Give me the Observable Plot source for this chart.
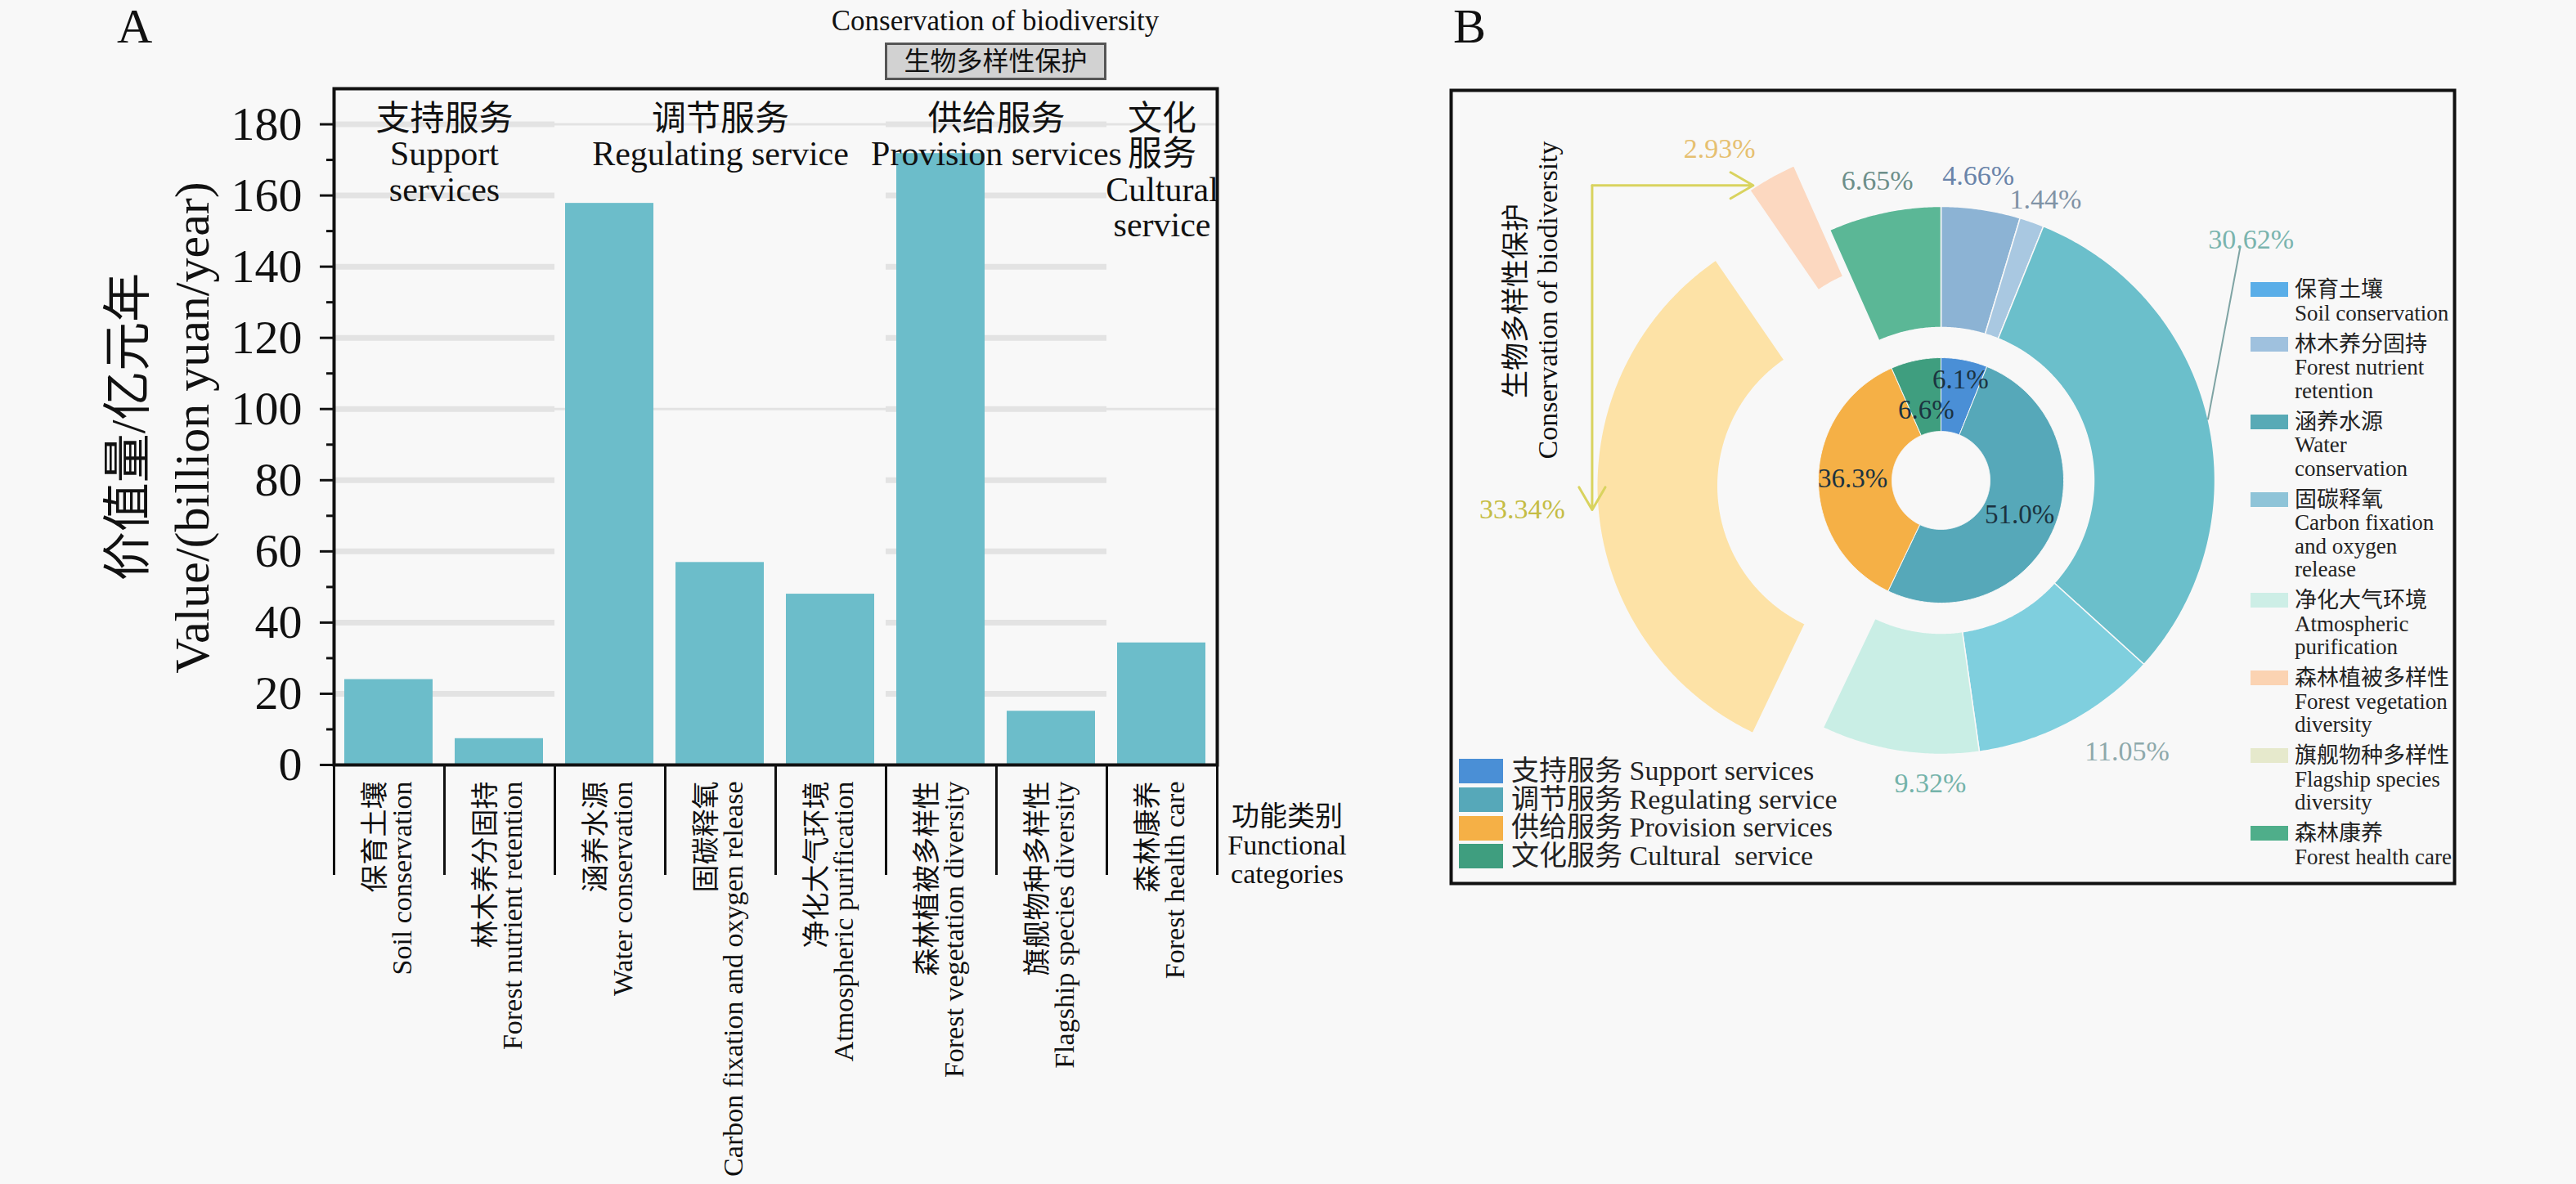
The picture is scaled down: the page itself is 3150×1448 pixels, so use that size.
<!DOCTYPE html>
<html><head><meta charset="utf-8">
<script src="https://cdn.jsdelivr.net/npm/d3@7"></script>
<script src="https://cdn.jsdelivr.net/npm/@observablehq/plot@0.6"></script>
<style>
html,body{margin:0;padding:0;background:#f8f8f8;}
#page{position:relative;width:3150px;height:1448px;overflow:hidden;font-family:"Liberation Serif","Noto Sans CJK SC",serif;color:#111;}
.abs{position:absolute;white-space:pre;line-height:1;}
.rot{transform:translate(-50%,-50%) rotate(-90deg);}
.legR{position:absolute;left:2752px;top:340px;font-size:27px;line-height:28.5px;color:#222;}
.legR .row{display:flex;align-items:flex-start;margin-bottom:9.5px;}
.legR .sw{width:46px;height:18px;margin-top:5px;margin-right:8px;flex:none;}
.legR .tx{white-space:pre;}
.legL{position:absolute;left:1784px;top:926px;font-size:34px;line-height:34.7px;color:#222;}
.legL .row{display:flex;align-items:center;height:34.7px;}
.legL .sw{width:54px;height:30px;margin-right:10px;flex:none;}
.legL .tx{white-space:pre;}
</style></head><body><div id="page"></div><script>
// ---------------- data ----------------
const categoriesZh = ["保育土壤","林木养分固持","涵养水源","固碳释氧","净化大气环境","森林植被多样性","旗舰物种多样性","森林康养"];
const categoriesEn = ["Soil conservation","Forest nutrient retention","Water conservation","Carbon fixation and oxygen release","Atmospheric purification","Forest vegetation diversity","Flagship species diversity","Forest health care"];
const legendEn = ["Soil conservation","Forest nutrient\nretention","Water\nconservation","Carbon fixation\nand oxygen\nrelease","Atmospheric\npurification","Forest vegetation\ndiversity","Flagship species\ndiversity","Forest health care"];
const values = [24.0, 7.4, 157.8, 56.9, 48.0, 171.8, 15.1, 34.3];
const categoryGroup = [0,0,1,1,1,2,2,3];
const groupsZh = ["支持服务","调节服务","供给服务","文化服务"];
const groupsEn = ["Support services","Regulating service","Provision services","Cultural  service"];
const groupLabelText = ["支持服务\nSupport\nservices","调节服务\nRegulating service","供给服务\nProvision services","文化\n服务\nCultural\nservice"];
const outerShares = [4.66, 1.44, 30.62, 11.05, 9.32, 33.34, 2.93, 6.65];
const innerShares = [6.1, 51.0, 36.3, 6.6];
const yTicks = [0,20,40,60,80,100,120,140,160,180];
const yMinorTicks = [10,30,50,70,90,110,130,150,170];

// ---------------- styles / layout ----------------
const FONT = "'Liberation Serif','Noto Sans CJK SC',serif";
const barColor = "#6cbdca";
const outerColors = ["#8cb3d4","#a9c8e1","#6bbfcb","#7fcfde","#c9eee5","#fde2a6","#fcd8c0","#5bb796"];
const legendColors = ["#5aaee8","#9fc1de","#58aab6","#8fc4d8","#cdeee6","#fbd3b2","#e6e9cc","#4fae8a"];
const outerLabelColors = ["#6a84aa","#8193a6","#7ab4ae","#8ea9ab","#74b3aa","#c5bd45","#e6c070","#6d8f8a"];
const innerColors = ["#4a8fd6","#56a8b9","#f5b046","#3f9e7f"];
const explode = [0,0,0,0,0,86,90,0];
const labelAnchor = ["middle","middle","middle","start","start","end","end","middle"];
const labelR = [375,366,480,375,375,375,375,375];
const labelShift = [-1.4,1.1,-24.9,0,0,0,0,0];
const innerLabelR = [125,105,108,88];
const gridThick = [true,false,true,false];

const page = document.getElementById("page");
function addDiv(html, css, cls="abs"){ const d=document.createElement("div"); d.className=cls; d.innerHTML=html; d.style.cssText=css; page.appendChild(d); return d; }

// ---------------- Panel A ----------------
const bars = values.map((v,i)=>({i, v, zh: categoriesZh[i], en: categoriesEn[i], g: categoryGroup[i]}));
const groups = groupsZh.map((zh,g)=>{ const idx = bars.filter(b=>b.g===g).map(b=>b.i); return {g, start: d3.min(idx), end: d3.max(idx)+1, text: groupLabelText[g]}; });
const gridSeg = [];
groups.forEach(gr => {
  const ticks = gridThick[gr.g] ? yTicks.slice(1) : [100,180];
  ticks.forEach(t => gridSeg.push({x1: gr.start, x2: gr.end, y: t, w: gridThick[gr.g] ? 7 : 3}));
});

const plotA = Plot.plot({
  width: 1700, height: 1448,
  marginLeft: 408, marginRight: 212, marginTop: 108, marginBottom: 513,
  x: {domain: [0, categoriesZh.length], axis: null},
  y: {domain: [0, 190], axis: null},
  style: {background: "transparent", fontFamily: FONT, color: "#111", overflow: "visible", maxWidth: "none"},
  marks: [
    Plot.ruleY(gridSeg, {x1: "x1", x2: "x2", y: "y", stroke: "#e3e3e3", strokeWidth: "w"}),
    Plot.rectY(bars, {x1: "i", x2: d => d.i + 1, y: "v", insetLeft: 13, insetRight: 14, fill: barColor}),
    Plot.frame({stroke: "#111", strokeWidth: 4}),
    Plot.axisY({ticks: yTicks, tickSize: 17, tickPadding: 22, fontSize: 58, strokeWidth: 3, label: null, tickFormat: d => String(d)}),
    Plot.axisY({ticks: yMinorTicks, tickSize: 9, strokeWidth: 3, label: null, tickFormat: () => ""}),
    Plot.axisX({ticks: d3.range(0, categoriesZh.length + 1), tickSize: 135, strokeWidth: 3, anchor: "bottom", label: null, tickFormat: () => ""}),
    Plot.text(bars, {x: d => d.i + 0.5, y: 0, text: d => d.zh + "\n" + d.en, rotate: -90, textAnchor: "end", lineAnchor: "middle", lineHeight: 0.97, dy: 20, fontSize: 34, fill: "#111"}),
    Plot.text(groups, {x: d => (d.start + d.end) / 2, y: 190, text: "text", lineAnchor: "top", dy: 20, fontSize: 42, lineHeight: 1.03, fill: "#111"})
  ]
});
const wrapA = document.createElement("div");
wrapA.style.cssText = "position:absolute;left:0;top:0;width:1700px;height:1448px;";
wrapA.appendChild(plotA); page.appendChild(wrapA);

addDiv("A", "left:143px;top:2px;font-size:60px;");
addDiv("Conservation of biodiversity", "left:1217px;top:8px;font-size:35px;transform:translateX(-50%);");
addDiv("生物多样性保护", "left:1082px;top:52px;width:271px;height:46px;box-sizing:border-box;background:#d2d2d2;border:3px solid #555;font-size:32px;line-height:40px;text-align:center;");
addDiv("价值量/亿元年", "left:157px;top:522px;font-size:60px;", "abs rot");
addDiv("Value/(billion yuan/year)", "left:235px;top:523px;font-size:60px;", "abs rot");
addDiv("功能类别\nFunctional\ncategories", "left:1574px;top:981px;font-size:34px;line-height:35px;text-align:center;transform:translateX(-50%);");

// ---------------- Panel B ----------------
const W = 1231, H = 974, PCX = 601, PCY = 479; // panel size and pie centre within panel
const R_OUT0 = 187, R_OUT1 = 335, R_IN0 = 60, R_IN1 = 150;
const rad = Math.PI / 180;
function slices(shares){ const tot = d3.sum(shares); let acc = 0; return shares.map((s,i)=>{ const a0 = acc/tot*360; acc += s; const a1 = acc/tot*360; return {i, s, a0, a1, mid: (a0+a1)/2}; }); }
function polar(r, a){ return {x: r*Math.sin(a*rad), y: r*Math.cos(a*rad)}; }
function slicePts(sl, r0, r1, e, color, id){
  const off = polar(e, sl.mid);
  const n = Math.max(2, Math.ceil((sl.a1 - sl.a0) / 0.5));
  const pts = [];
  for (let k = 0; k <= n; k++){ const p = polar(r1, sl.a0 + (sl.a1 - sl.a0)*k/n); pts.push({id, c: color, x: p.x + off.x, y: p.y + off.y}); }
  for (let k = n; k >= 0; k--){ const p = polar(r0, sl.a0 + (sl.a1 - sl.a0)*k/n); pts.push({id, c: color, x: p.x + off.x, y: p.y + off.y}); }
  pts.push({...pts[0]});
  return pts;
}
const outerSl = slices(outerShares);
const innerSl = slices(innerShares);
const outerPts = outerSl.flatMap(sl => slicePts(sl, R_OUT0, R_OUT1, explode[sl.i], outerColors[sl.i], "o" + sl.i));
const innerPts = innerSl.flatMap(sl => slicePts(sl, R_IN0, R_IN1, 0, innerColors[sl.i], "i" + sl.i));

// outer labels (the largest regulating slice uses a leader line)
const leaderIdx = 2;
const outerLabels = outerSl.map(sl => {
  const p = polar(labelR[sl.i] + explode[sl.i], sl.mid + labelShift[sl.i]);
  return {x: p.x, y: p.y, text: sl.s.toFixed(2) + "%", c: outerLabelColors[sl.i], anchor: labelAnchor[sl.i]};
});
const lsl = outerSl[leaderIdx];
const leader = [polar(R_OUT1, lsl.mid), polar(labelR[leaderIdx] - 17, lsl.mid + labelShift[leaderIdx])];
const innerLabels = innerSl.map(sl => { const p = polar(innerLabelR[sl.i], sl.mid); return {x: p.x, y: p.y, text: sl.s.toFixed(1) + "%"}; });

// annotation arrows: from corner to the exploded flagship slice and down to the vegetation label
const flag = outerSl[6];
const flagOff = polar(explode[6], flag.mid);
const flagCorner = polar(R_OUT1, flag.a0);
const end1 = {x: flagCorner.x + flagOff.x + 4, y: flagCorner.y + flagOff.y + 6};
const vegLbl = outerLabels[5];
const corner = {x: vegLbl.x + 33, y: end1.y};
const arrows = [
  {x1: corner.x, y1: corner.y, x2: end1.x, y2: end1.y},
  {x1: corner.x, y1: corner.y, x2: corner.x, y2: vegLbl.y}
];

const labelMarks = ["middle","start","end"].map(anc => Plot.text(outerLabels.filter(d => d.anchor === anc), {x: "x", y: "y", text: "text", fill: "c", fontSize: 34, textAnchor: anc}));

const plotB = Plot.plot({
  width: W, height: H, margin: 0,
  x: {domain: [-PCX, W - PCX], axis: null},
  y: {domain: [-(H - PCY), PCY], axis: null},
  color: {type: "identity"},
  style: {background: "transparent", fontFamily: FONT, color: "#111", overflow: "visible", maxWidth: "none"},
  marks: [
    Plot.line(outerPts, {x: "x", y: "y", z: "id", fill: "c", stroke: "#f8f8f8", strokeWidth: 1.5}),
    Plot.line(innerPts, {x: "x", y: "y", z: "id", fill: "c", stroke: "#f8f8f8", strokeWidth: 1}),
    Plot.line(leader, {x: "x", y: "y", stroke: "#7fa4a4", strokeWidth: 2}),
    Plot.arrow(arrows, {x1: "x1", y1: "y1", x2: "x2", y2: "y2", stroke: "#d9d35f", strokeWidth: 3, headLength: 16}),
    ...labelMarks,
    Plot.text(innerLabels, {x: "x", y: "y", text: "text", fill: "#1b3340", fontSize: 33}),
    Plot.frame({stroke: "#111", strokeWidth: 4, inset: 2})
  ]
});
const wrapB = document.createElement("div");
wrapB.style.cssText = `position:absolute;left:1772px;top:108px;width:${W}px;height:${H}px;`;
wrapB.appendChild(plotB); page.appendChild(wrapB);

addDiv("B", "left:1777px;top:2px;font-size:60px;");
addDiv("生物多样性保护", "left:1854px;top:368px;font-size:34px;", "abs rot");
addDiv("Conservation of biodiversity", "left:1893px;top:367px;font-size:34px;", "abs rot");

// right legend (outer ring)
const legR = document.createElement("div"); legR.className = "legR";
categoriesZh.forEach((zh,i) => {
  legR.insertAdjacentHTML("beforeend", `<div class="row"><div class="sw" style="background:${legendColors[i]}"></div><div class="tx">${zh}\n${legendEn[i]}</div></div>`);
});
page.appendChild(legR);

// bottom-left legend (inner ring)
const legL = document.createElement("div"); legL.className = "legL";
groupsZh.forEach((zh,i) => {
  legL.insertAdjacentHTML("beforeend", `<div class="row"><div class="sw" style="background:${innerColors[i]}"></div><div class="tx">${zh} ${groupsEn[i]}</div></div>`);
});
page.appendChild(legL);
</script></body></html>
